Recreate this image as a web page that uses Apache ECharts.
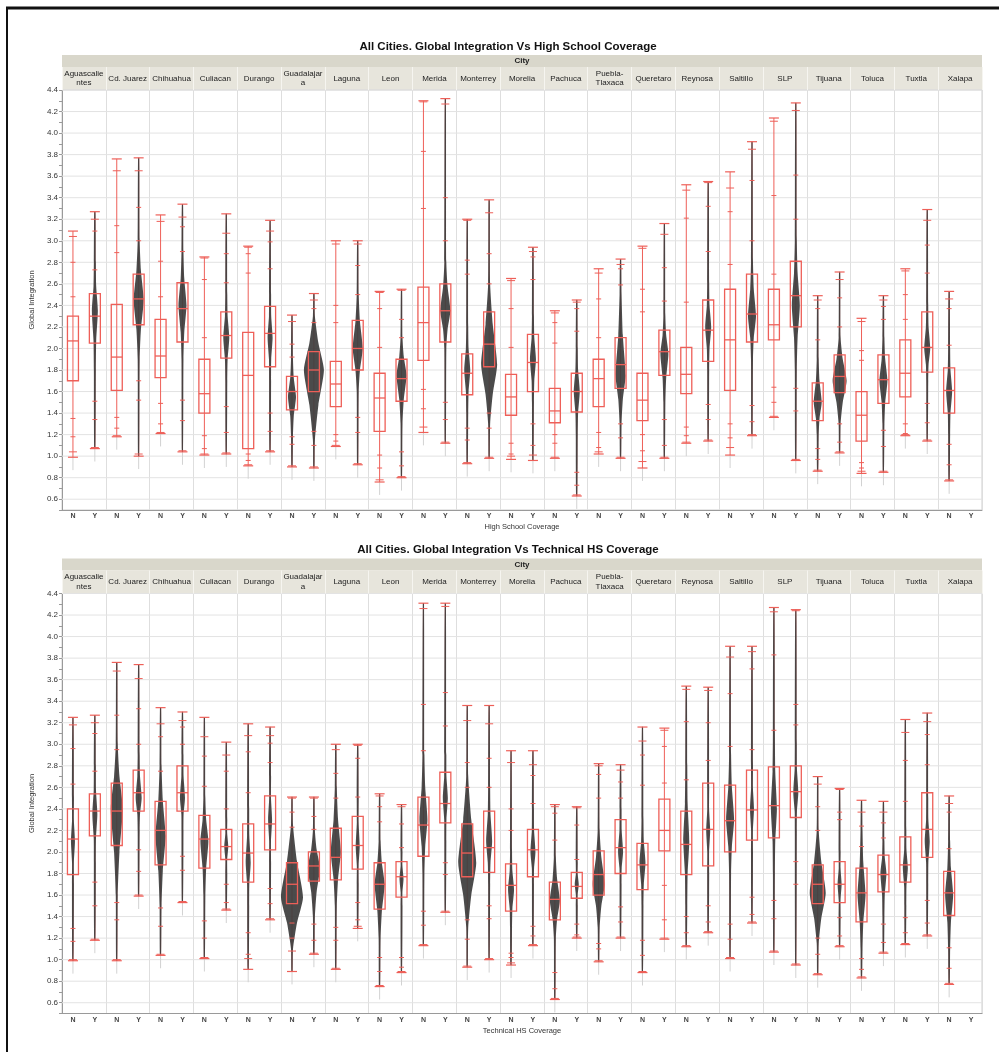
<!DOCTYPE html>
<html>
<head>
<meta charset="utf-8">
<script src="https://cdn.jsdelivr.net/npm/echarts@6/dist/echarts.min.js"></script>
<style>
html, body { margin: 0; padding: 0; background: #fff; }
#chart { width: 999px; height: 1052px; }
</style>
</head>
<body>
<div id="chart"></div>
<script>
const cities = ['Aguascalientes', 'Cd. Juarez', 'Chihuahua', 'Culiacan', 'Durango', 'Guadalajara', 'Laguna', 'Leon',
  'Merida', 'Monterrey', 'Morelia', 'Pachuca', 'Puebla-Tlaxaca', 'Queretaro', 'Reynosa', 'Saltillo', 'SLP',
  'Tijuana', 'Toluca', 'Tuxtla', 'Xalapa'];
const cityLabels = ['Aguascalie\nntes', 'Cd. Juarez', 'Chihuahua', 'Culiacan', 'Durango', 'Guadalajar\na', 'Laguna', 'Leon',
  'Merida', 'Monterrey', 'Morelia', 'Pachuca', 'Puebla-\nTlaxaca', 'Queretaro', 'Reynosa', 'Saltillo', 'SLP',
  'Tijuana', 'Toluca', 'Tuxtla', 'Xalapa'];
const groups = ['N', 'Y'];
const yTicks = [0.6, 0.8, 1.0, 1.2, 1.4, 1.6, 1.8, 2.0, 2.2, 2.4, 2.6, 2.8, 3.0, 3.2, 3.4, 3.6, 3.8, 4.0, 4.2, 4.4];

// High School Coverage (order: city N, city Y, ...). Quantile marks from bottom to top.
const hsMin = [0.99,1.07,1.18,1.00,1.21,1.04,1.01,1.02,0.91,1.04,0.90,0.89,1.09,0.92,0.76,0.80,1.22,1.12,0.93,0.98,0.97,0.96,0.98,0.63,1.02,0.98,0.89,0.98,1.12,1.14,1.01,1.19,1.36,0.96,0.86,1.03,0.84,0.85,1.19,1.14,0.77,null];
const hsP005 = [1.04,1.08,1.19,1.02,1.22,1.05,1.02,1.03,0.92,1.05,0.91,0.90,1.10,0.93,0.78,0.81,1.27,1.13,0.94,0.99,1.00,1.01,0.99,0.64,1.04,0.99,0.95,0.99,1.13,1.15,1.08,1.20,1.37,0.97,0.87,1.04,0.86,0.86,1.20,1.15,0.78,null];
const hsP025 = [1.18,1.34,1.26,1.52,1.30,1.33,1.07,1.22,0.96,1.23,1.11,1.10,1.14,1.22,0.89,0.91,1.44,1.34,1.15,1.26,1.02,1.10,1.12,0.73,1.08,1.17,1.05,1.10,1.19,1.34,1.17,1.32,1.50,1.42,0.97,1.13,0.89,1.09,1.21,1.31,0.92,null];
const hsP10 = [1.35,1.51,1.36,1.70,1.49,1.52,1.19,1.46,1.02,1.40,1.18,1.23,1.20,1.36,1.01,1.04,1.62,1.50,1.26,1.40,1.12,1.30,1.20,0.85,1.22,1.30,1.20,1.34,1.27,1.48,1.30,1.47,1.64,1.63,1.07,1.30,0.94,1.24,1.30,1.49,1.11,null];
const hsQ1 = [1.70,2.05,1.61,2.22,1.73,2.06,1.40,1.91,1.07,1.83,1.43,1.60,1.46,1.80,1.23,1.51,1.89,2.06,1.57,1.83,1.38,1.60,1.31,1.41,1.46,1.63,1.33,1.75,1.58,1.88,1.61,2.06,2.08,2.20,1.33,1.59,1.14,1.49,1.55,1.78,1.40,null];
const hsMed = [2.07,2.30,1.92,2.46,1.93,2.37,1.58,2.12,1.75,2.14,1.60,1.80,1.67,2.00,1.54,1.72,2.24,2.35,1.77,2.04,1.55,1.87,1.42,1.60,1.72,1.85,1.52,1.97,1.76,2.17,2.08,2.32,2.22,2.49,1.51,1.74,1.38,1.71,1.77,2.01,1.61,null];
const hsQ3 = [2.30,2.51,2.41,2.69,2.27,2.61,1.90,2.34,2.15,2.39,1.74,1.97,1.88,2.26,1.77,1.90,2.57,2.60,1.95,2.34,1.76,2.13,1.63,1.77,1.90,2.10,1.77,2.17,2.01,2.45,2.55,2.69,2.55,2.81,1.68,1.94,1.60,1.94,2.08,2.34,1.82,null];
const hsP90 = [2.48,2.73,2.89,3.00,2.48,2.90,2.10,2.61,2.70,2.74,1.92,2.24,2.24,2.50,2.01,2.10,3.30,3.00,2.69,2.60,2.01,2.64,2.05,2.16,2.10,2.59,2.34,2.44,2.43,2.90,2.78,3.00,2.69,3.20,2.08,2.20,1.89,2.27,2.27,2.70,2.03,null];
const hsP975 = [2.80,3.09,3.14,3.31,2.81,3.13,2.64,2.88,2.88,2.99,2.04,2.37,2.40,2.77,2.37,2.27,3.83,3.40,2.82,2.88,2.37,2.85,2.24,2.37,2.46,2.74,2.55,2.75,3.21,3.32,3.27,3.56,3.42,3.61,2.37,2.47,1.98,2.39,2.50,2.96,2.37,null];
const hsP995 = [3.04,3.20,3.65,3.65,3.18,3.22,2.84,3.07,2.94,3.09,2.25,2.45,2.97,2.97,2.52,2.54,4.29,4.27,3.19,3.26,2.63,2.90,2.33,2.43,2.70,2.78,2.93,3.06,3.47,3.54,3.49,3.85,4.11,4.21,2.45,2.64,2.25,2.45,2.72,3.19,2.46,null];
const hsMax = [3.09,3.27,3.76,3.77,3.24,3.34,2.85,3.25,2.95,3.19,2.31,2.51,3.00,3.00,2.53,2.55,4.30,4.32,3.20,3.38,2.65,2.94,2.35,2.45,2.74,2.83,2.95,3.16,3.52,3.55,3.64,3.92,4.14,4.28,2.49,2.71,2.28,2.49,2.74,3.29,2.53,null];
// violin: peak half width (px, 0 = none), bulge bottom, peak value, bulge top
const hsVioW = [0,3,0,5,0,4,0,3,0,2.5,4,10,0,5,0,5,0,5,3,8,0,3,0,3,0,5,0,4,0,3,0,4,0,4,4,7,0,4,0,3,3,null];
const hsVioLo = [0,1.8,0,1.9,0,1.9,0,1.7,0,1.7,1.2,1.15,0,1.6,0,1.3,0,2.0,1.4,1.3,0,1.5,0,1.2,0,1.3,0,1.5,0,1.8,0,1.9,0,1.8,1.2,1.3,0,1.3,0,1.7,1.2,null];
const hsVioPk = [0,2.35,0,2.45,0,2.4,0,2.1,0,2.1,1.55,1.8,0,2.0,0,1.75,0,2.35,1.8,1.85,0,1.9,0,1.6,0,1.75,0,1.95,0,2.2,0,2.3,0,2.4,1.5,1.7,0,1.7,0,2.0,1.6,null];
const hsVioHi = [0,2.8,0,3.0,0,2.9,0,2.5,0,2.5,1.9,2.3,0,2.5,0,2.1,0,2.8,2.2,2.6,0,2.3,0,2.0,0,2.5,0,2.3,0,2.6,0,2.8,0,3.0,1.9,2.1,0,2.1,0,2.4,2.0,null];

// Technical HS Coverage
const thsMin = [0.99,1.18,0.99,1.59,1.04,1.53,1.01,1.46,0.91,1.37,0.89,1.05,0.91,1.29,0.75,0.88,1.13,1.44,0.93,1.00,0.95,1.13,0.63,1.20,0.98,1.20,0.88,1.19,1.12,1.25,1.01,1.34,1.07,0.95,0.86,1.12,0.83,1.06,1.14,1.22,0.77,null];
const thsP005 = [1.00,1.19,1.00,1.60,1.05,1.54,1.02,1.47,1.01,1.38,1.08,1.06,0.92,1.31,0.76,0.89,1.14,1.45,0.94,1.01,0.97,1.14,0.64,1.21,0.99,1.21,0.89,1.20,1.13,1.26,1.02,1.35,1.08,0.96,0.87,1.13,0.84,1.07,1.15,1.23,0.78,null];
const thsP025 = [1.17,1.50,1.37,1.82,1.31,1.83,1.20,1.53,1.05,1.52,1.20,1.18,1.18,1.37,0.89,0.93,1.32,1.79,1.19,1.38,1.02,1.22,0.73,1.23,1.10,1.35,1.04,1.37,1.25,1.35,1.19,1.42,1.38,1.70,1.05,1.22,0.91,1.16,1.25,1.34,0.92,null];
const thsP10 = [1.29,1.72,1.53,2.02,1.48,1.96,1.36,1.70,1.25,1.66,1.34,1.33,1.30,1.53,1.02,1.02,1.45,1.90,1.37,1.50,1.06,1.31,0.88,1.33,1.15,1.49,1.18,1.69,1.40,1.50,1.33,1.58,1.55,1.91,1.20,1.39,1.01,1.33,1.39,1.55,1.11,null];
const thsQ1 = [1.79,2.15,2.06,2.38,1.88,2.38,1.85,1.93,1.72,2.02,1.52,1.73,1.74,1.84,1.47,1.58,1.96,2.27,1.77,1.81,1.45,1.77,1.37,1.57,1.60,1.80,1.65,2.01,1.79,1.87,2.00,2.11,2.13,2.32,1.52,1.53,1.35,1.63,1.72,1.95,1.41,null];
const thsMed = [2.12,2.38,2.38,2.55,2.20,2.55,2.12,2.05,1.99,2.26,1.70,1.87,1.95,2.06,1.70,1.77,2.25,2.45,1.99,2.04,1.69,2.02,1.56,1.68,1.79,2.04,1.88,2.20,2.07,2.21,2.29,2.39,2.43,2.56,1.70,1.70,1.62,1.79,1.88,2.21,1.62,null];
const thsQ3 = [2.40,2.54,2.64,2.76,2.47,2.80,2.34,2.21,2.26,2.52,1.90,2.00,2.22,2.33,1.90,1.91,2.51,2.74,2.26,2.38,1.89,2.21,1.72,1.81,2.01,2.30,2.08,2.49,2.38,2.64,2.62,2.76,2.79,2.80,1.88,1.91,1.85,1.97,2.14,2.55,1.82,null];
const thsP90 = [2.63,2.75,2.95,3.00,2.75,3.00,2.61,2.40,2.55,2.83,2.23,2.21,2.50,2.51,2.28,2.04,2.94,3.17,2.60,2.60,2.20,2.45,2.11,1.93,2.50,2.50,2.62,2.64,2.67,2.85,2.98,2.95,3.13,3.18,2.20,2.30,2.05,2.13,2.47,2.81,2.03,null];
const thsP975 = [2.96,3.10,3.27,3.33,3.07,3.16,2.89,2.75,2.93,3.01,2.37,2.33,2.73,2.87,2.42,2.26,3.37,3.48,2.83,2.87,2.40,2.71,2.36,2.25,2.72,2.65,2.90,2.98,3.21,3.20,3.47,3.70,3.83,3.37,2.42,2.37,2.24,2.27,2.85,3.09,2.37,null];
const thsP995 = [3.18,3.20,3.68,3.61,3.19,3.22,3.07,2.90,3.08,3.08,2.50,2.50,2.95,2.99,2.52,2.42,4.26,4.28,3.22,3.19,2.83,2.81,2.42,2.41,2.80,2.76,3.03,3.13,3.51,3.50,3.81,3.86,4.23,4.24,2.63,2.58,2.37,2.37,3.11,3.21,2.45,null];
const thsMax = [3.25,3.27,3.76,3.74,3.34,3.30,3.25,3.02,3.19,3.16,2.51,2.51,3.00,3.00,2.54,2.44,4.31,4.31,3.36,3.36,2.94,2.94,2.44,2.42,2.82,2.81,3.16,3.15,3.54,3.53,3.91,3.91,4.27,4.25,2.70,2.59,2.48,2.47,3.23,3.29,2.52,null];
const thsVioW = [2,2.5,6,3,5,2.5,4,2,2.5,2,11,6,5,2,5,2,4,2.5,9,3,3,2.5,5,2,6,2.5,3,0,3,2,4,2,3,2.5,8,2,4,3,2.5,2.5,4,null];
const thsVioLo = [1.7,1.9,1.6,2.2,1.5,2.2,1.6,1.8,1.5,1.9,1.1,1.4,1.5,1.7,1.2,1.5,1.8,2.1,1.3,1.7,1.3,1.7,1.2,1.5,1.3,1.7,1.5,0,1.5,1.8,1.8,2.0,1.8,2.2,1.15,1.4,1.1,1.4,1.5,1.7,1.1,null];
const thsVioPk = [2.1,2.35,2.4,2.5,2.15,2.5,2.1,2.05,1.9,2.3,1.58,1.85,2.0,2.05,1.7,1.75,2.3,2.5,1.9,2.1,1.65,2.0,1.55,1.7,1.7,2.0,1.9,0,2.1,2.2,2.3,2.4,2.4,2.55,1.62,1.7,1.6,1.8,1.85,2.1,1.6,null];
const thsVioHi = [2.5,2.8,3.0,2.9,2.8,2.9,2.5,2.3,2.4,2.7,2.25,2.2,2.6,2.5,2.1,2.0,2.9,2.9,2.7,2.6,2.0,2.4,1.95,1.9,2.2,2.4,2.3,0,2.8,2.6,2.9,2.8,3.1,3.0,2.2,2.0,2.2,2.1,2.2,2.5,2.1,null];

const panels = [
  {
    title: 'All Cities. Global Integration Vs High School Coverage',
    xName: 'High School Coverage',
    top: 90,
    stats: [hsMin, hsP005, hsP025, hsP10, hsQ1, hsMed, hsQ3, hsP90, hsP975, hsP995, hsMax],
    violin: [hsVioW, hsVioLo, hsVioPk, hsVioHi]
  },
  {
    title: 'All Cities. Global Integration Vs Technical HS Coverage',
    xName: 'Technical HS Coverage',
    top: 593.5,
    stats: [thsMin, thsP005, thsP025, thsP10, thsQ1, thsMed, thsQ3, thsP90, thsP975, thsP995, thsMax],
    violin: [thsVioW, thsVioLo, thsVioPk, thsVioHi]
  }
];

const slots = [];
cities.forEach(c => groups.forEach(g => slots.push(c + '|' + g)));

const RED = '#ee5f58';
const FONT = 'Liberation Sans, Arial, sans-serif';
const GRID_L = 62, GRID_W = 920, GRID_H = 420;

function buildData(stats, violin) {
  const out = [];
  for (let i = 0; i < slots.length; i++) {
    if (stats[0][i] == null) continue;
    const row = [i];
    stats.forEach(a => row.push(a[i]));
    violin.forEach(a => row.push(a[i]));
    out.push(row);
  }
  return out;
}

function renderGroup(params, api) {
  const i = api.value(0);
  const x = api.coord([i, 1])[0];
  const y = v => api.coord([i, v])[1];
  const v = k => api.value(k);
  const mn = v(1), pA = v(2), pB = v(3), pC = v(4), q1 = v(5), med = v(6), q3 = v(7),
        pD = v(8), pE = v(9), pF = v(10), mx = v(11);
  const vw = v(12), vlo = v(13), vpk = v(14), vhi = v(15);
  const hline = (val, half, lw) => ({
    type: 'line',
    shape: { x1: x - half, y1: y(val), x2: x + half, y2: y(val) },
    style: { stroke: RED, lineWidth: lw || 1 }
  });
  const kids = [];
  // faint tail under the lowest value
  kids.push({ type: 'line', shape: { x1: x, y1: y(mn - 0.12), x2: x, y2: y(mn) },
    style: { stroke: '#d2d2d2', lineWidth: 1 } });
  kids.push({ type: 'line', shape: { x1: x, y1: y(mn), x2: x, y2: y(mx) },
    style: { stroke: RED, lineWidth: 1 } });
  if (vw > 0) {
    const prof = [[mn, 0.6], [vlo, 1], [(vlo + vpk) / 2, 0.45 * vw], [vpk, vw],
                  [(vpk + vhi) / 2, 0.45 * vw], [vhi, 1], [mx, 0.6]];
    const right = prof.map(p => [x + p[1], y(p[0])]);
    const left = prof.slice().reverse().map(p => [x - p[1], y(p[0])]);
    kids.push({ type: 'polygon', shape: { points: right.concat(left), smooth: 0.2 },
      style: { fill: '#3d3d3d', opacity: 0.93 } });
  }
  kids.push({ type: 'rect',
    shape: { x: x - 5.5, y: y(q3), width: 11, height: y(q1) - y(q3) },
    style: { fill: 'none', stroke: RED, lineWidth: 1.3 } });
  kids.push(hline(med, 5.5, 1.3));
  kids.push(hline(mn, 5, 1.2));
  kids.push(hline(mx, 5, 1.2));
  kids.push(hline(pA, 4));
  kids.push(hline(pF, 4));
  [pB, pC, pD, pE].forEach(t => kids.push(hline(t, 2.5)));
  return { type: 'group', children: kids };
}

function renderGridLine(params, api) {
  const cs = params.coordSys;
  const yy = api.coord([0, api.value(1)])[1];
  return { type: 'line', shape: { x1: cs.x, y1: yy, x2: cs.x + cs.width, y2: yy },
    style: { stroke: '#e3e3e3', lineWidth: 1 } };
}

const grid = [], xAxis = [], yAxis = [], series = [], graphic = [];

graphic.push({ type: 'line', shape: { x1: 6, y1: 8, x2: 999, y2: 8 }, style: { stroke: '#111', lineWidth: 3 } });
graphic.push({ type: 'line', shape: { x1: 7, y1: 7, x2: 7, y2: 1052 }, style: { stroke: '#111', lineWidth: 2 } });

panels.forEach((p, k) => {
  grid.push({ left: GRID_L, top: p.top, width: GRID_W, height: GRID_H,
    show: true, borderColor: '#cfcfcf', borderWidth: 1 });

  graphic.push({ type: 'rect', z: -1, shape: { x: GRID_L, y: p.top - 35, width: GRID_W, height: 12 },
    style: { fill: '#d9d7cb' } });
  graphic.push({ type: 'rect', z: -1, shape: { x: GRID_L, y: p.top - 23, width: GRID_W, height: 23 },
    style: { fill: '#e7e5dc' } });
  graphic.push({ type: 'text', x: 508, y: p.top - 43.5, z: 5,
    style: { text: p.title, font: 'bold 11.5px ' + FONT, fill: '#111',
      align: 'center', verticalAlign: 'middle', textAlign: 'center', textVerticalAlign: 'middle' } });
  graphic.push({ type: 'text', x: 522, y: p.top - 29, z: 5,
    style: { text: 'City', font: 'bold 8px ' + FONT, fill: '#222',
      align: 'center', verticalAlign: 'middle', textAlign: 'center', textVerticalAlign: 'middle' } });

  xAxis.push({
    type: 'category', gridIndex: k, data: slots, boundaryGap: true,
    axisLine: { lineStyle: { color: '#9a9a9a' } },
    axisTick: { show: false },
    axisLabel: { interval: 0, formatter: s => s.split('|')[1], fontSize: 7, fontWeight: 'bold',
      color: '#444', margin: 3, fontFamily: FONT },
    splitLine: { show: true, interval: idx => idx % 2 === 0, lineStyle: { color: '#dedede' } },
    name: p.xName, nameLocation: 'middle', nameGap: 13,
    nameTextStyle: { fontSize: 7.5, color: '#333', fontFamily: FONT }
  });
  xAxis.push({
    type: 'category', gridIndex: k, data: cityLabels, position: 'top', boundaryGap: true, z: 5,
    axisLine: { show: false },
    axisTick: { show: true, interval: 0, length: 23, lineStyle: { color: '#f6f5f0' } },
    axisLabel: { interval: 0, fontSize: 8, color: '#222', lineHeight: 9.5, margin: 11.5,
      verticalAlign: 'middle', fontFamily: FONT },
    splitLine: { show: false }
  });
  yAxis.push({
    type: 'value', gridIndex: k, min: 0.5, max: 4.4, interval: 0.1,
    axisLine: { show: true, lineStyle: { color: '#9a9a9a' } },
    axisTick: { show: true, length: 3, lineStyle: { color: '#9a9a9a' } },
    axisLabel: { fontSize: 8, color: '#333', margin: 4, fontFamily: FONT,
      formatter: val => (Math.round(val * 10) % 2 === 0 ? val.toFixed(1) : '') },
    splitLine: { show: false },
    name: 'Global Integration', nameLocation: 'middle', nameGap: 21,
    nameTextStyle: { fontSize: 7.5, color: '#333', fontFamily: FONT }
  });

  series.push({
    type: 'custom', xAxisIndex: k * 2, yAxisIndex: k, z: 1, silent: true,
    data: yTicks.map(t => [0, t]), encode: { x: 0, y: 1 },
    renderItem: renderGridLine
  });
  series.push({
    type: 'custom', xAxisIndex: k * 2, yAxisIndex: k, z: 3,
    data: buildData(p.stats, p.violin), encode: { x: 0, y: [1, 11] },
    renderItem: renderGroup
  });
});

const chart = echarts.init(document.getElementById('chart'));
chart.setOption({
  animation: false,
  backgroundColor: '#fff',
  textStyle: { fontFamily: FONT },
  grid, xAxis, yAxis, series, graphic
});
</script>
</body>
</html>
